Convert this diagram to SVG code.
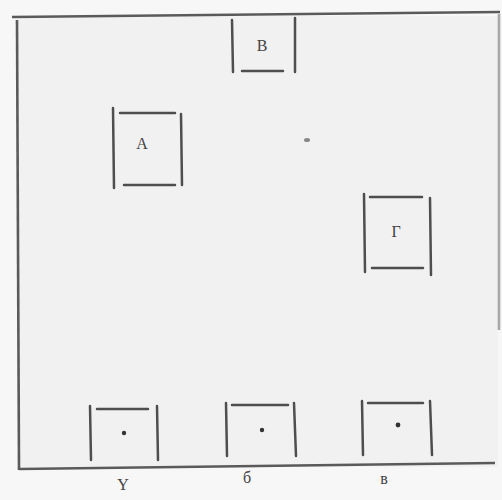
<svg xmlns="http://www.w3.org/2000/svg" width="502" height="500" viewBox="0 0 502 500">
<style>
.ln{stroke:#4e4e4e;stroke-width:2.5;fill:none;stroke-linecap:round}
.fr{stroke:#5a5a5a;stroke-width:2.6;fill:none}
.t{font-family:"Liberation Serif","DejaVu Serif",serif;font-size:16px;fill:#444;text-anchor:middle}
.d{fill:#333}
</style>
<rect x="0" y="0" width="502" height="500" fill="#f7f7f7"/>
<rect x="18" y="16" width="480" height="451" fill="#f1f1f1"/>
<g id="frame">
<path class="fr" d="M12 17 L500 12"/>
<path class="fr" d="M17 20 L19 470"/>
<path class="fr" d="M19 469 L495 463"/>
<path class="fr" d="M499 14 L499 330" stroke-opacity="0.5"/>
</g>
<g id="node-A">
<path class="ln" d="M113 108 L114 188 M181 114 L182 185 M120 113 L175 113 M124 185 L175 185"/>
<text class="t" x="142" y="149">A</text>
</g>
<g id="node-B">
<path class="ln" d="M232 20 L233 72 M295 18 L295 72 M242 71 L283 71"/>
<text class="t" x="262" y="51">B</text>
</g>
<g id="node-G">
<path class="ln" d="M364 194 L365 272 M430 198 L431 275 M370 197 L422 197 M372 268 L423 268"/>
<text class="t" x="396" y="237">Γ</text>
</g>
<g id="node-y">
<path class="ln" d="M90 406 L91 460 M157 406 L158 460 M97 409 L148 409"/>
<circle class="d" cx="124" cy="433" r="2.2"/>
<text class="t" x="123" y="490">Y</text>
</g>
<g id="node-b">
<path class="ln" d="M226 403 L227 456 M294 403 L296 456 M232 405 L288 405"/>
<circle class="d" cx="262" cy="430" r="2.2"/>
<text class="t" x="247" y="483">б</text>
</g>
<g id="node-v">
<path class="ln" d="M362 401 L363 455 M430 401 L432 455 M368 403 L423 403"/>
<circle class="d" cx="398" cy="425" r="2.4"/>
<text class="t" x="384" y="484">в</text>
</g>
<g id="connectors"></g>
<ellipse cx="307" cy="140" rx="3" ry="2" fill="#888"/>
</svg>
